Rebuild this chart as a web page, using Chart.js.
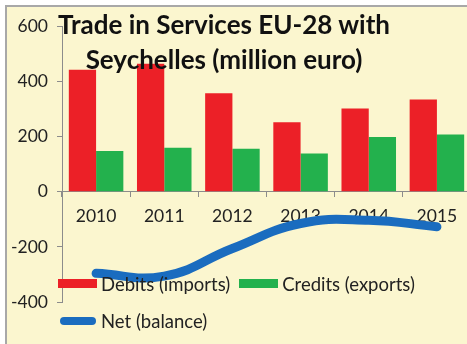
<!DOCTYPE html>
<html>
<head>
<meta charset="utf-8">
<script src="https://cdn.jsdelivr.net/npm/chart.js"></script>
<style>
  html, body { margin: 0; padding: 0; background: #fff; overflow: hidden; width: 467px; height: 344px; }
  #panel {
    position: absolute; left: 5px; top: 5px; width: 480px; height: 360px;
    background: #fbf6cf; border-left: 2px solid #a8a8a8; border-top: 2px solid #a8a8a8;
  }
  #wrap { position: absolute; left: 0; top: 0; width: 472px; height: 337px; }
  #title {
    position: absolute; left: 17px; top: 0px; width: 400px; text-align: center; white-space: nowrap;
    font: bold 26px Lato, sans-serif; line-height: 35px; color: #111;
  }
  #legend {
    position: absolute; left: 51px; top: 257px; width: 400px;
    font: 18.5px Lato, sans-serif; color: #222; line-height: 34px;
  }
  .item { display: inline-flex; align-items: center; margin-right: 9px; white-space: nowrap; }
  .sw { display: inline-block; width: 39px; height: 9px; margin-right: 4px; }
  .ln { display: inline-block; width: 36px; height: 8px; border-radius: 4px; margin: 0 5px 0 2px; }
</style>
</head>
<body>
<div id="panel">
  <div id="wrap"><canvas id="tradeChart"></canvas></div>
  <div id="title">Trade in Services EU-28 with<br>Seychelles (million euro)</div>
  <div id="legend"></div>
</div>
<script>
    const years = ['2010', '2011', '2012', '2013', '2014', '2015'];
    const debits = [443, 465, 358, 252, 302, 335];
    const credits = [148, 160, 156, 139, 199, 208];
    const net = [-296, -306, -206, -115, -103, -127];
    const yTicks = [-400, -200, 0, 200, 400, 600];

    const colors = {
        debits: '#ec2027',
        credits: '#23b14d',
        net: '#1a6cbf'
    };

    const axisFont = { family: 'Lato', size: 17.5 };

    const ctx = document.getElementById('tradeChart').getContext('2d');
    const chart = new Chart(ctx, {
        type: 'bar',
        data: {
            labels: years,
            datasets: [
                {
                    type: 'line',
                    label: 'Net (balance)',
                    data: net,
                    borderColor: colors.net,
                    backgroundColor: colors.net,
                    borderWidth: 9,
                    borderCapStyle: 'round',
                    pointRadius: 0,
                    tension: 0.45,
                    order: 0
                },
                {
                    label: 'Debits (imports)',
                    data: debits,
                    backgroundColor: colors.debits,
                    categoryPercentage: 0.8,
                    barPercentage: 1.0,
                    order: 1
                },
                {
                    label: 'Credits (exports)',
                    data: credits,
                    backgroundColor: colors.credits,
                    categoryPercentage: 0.8,
                    barPercentage: 1.0,
                    order: 1
                }
            ]
        },
        options: {
            responsive: true,
            maintainAspectRatio: false,
            animation: false,
            layout: { padding: { top: 18, right: 8, bottom: 42, left: 0 } },
            plugins: {
                legend: { display: false },
                tooltip: { enabled: false }
            },
            scales: {
                x: {
                    position: { y: 0 },
                    offset: true,
                    grid: {
                        offset: true,
                        drawOnChartArea: false,
                        tickLength: 5,
                        color: '#8c8c8c'
                    },
                    border: { color: '#8c8c8c', width: 1 },
                    ticks: { padding: 9, font: axisFont, color: '#222' }
                },
                y: {
                    min: -400,
                    max: 600,
                    afterBuildTicks: s => { s.ticks = yTicks.map(v => ({ value: v })); },
                    afterFit: s => { s.width = 55; },
                    grid: {
                        drawOnChartArea: false,
                        tickLength: 5,
                        color: '#8c8c8c'
                    },
                    border: { color: '#8c8c8c', width: 1 },
                    ticks: { padding: 9, font: axisFont, color: '#222' }
                }
            }
        }
    });

    // legend: bars first, then the balance line on its own row
    const legend = document.getElementById('legend');
    [1, 2, 0].forEach(i => {
        const ds = chart.data.datasets[i];
        const item = document.createElement('span');
        item.className = 'item';
        const mark = document.createElement('span');
        mark.className = ds.type === 'line' ? 'ln' : 'sw';
        mark.style.background = ds.type === 'line' ? ds.borderColor : ds.backgroundColor;
        item.appendChild(mark);
        item.appendChild(document.createTextNode(ds.label));
        legend.appendChild(item);
    });
</script>
</body>
</html>
